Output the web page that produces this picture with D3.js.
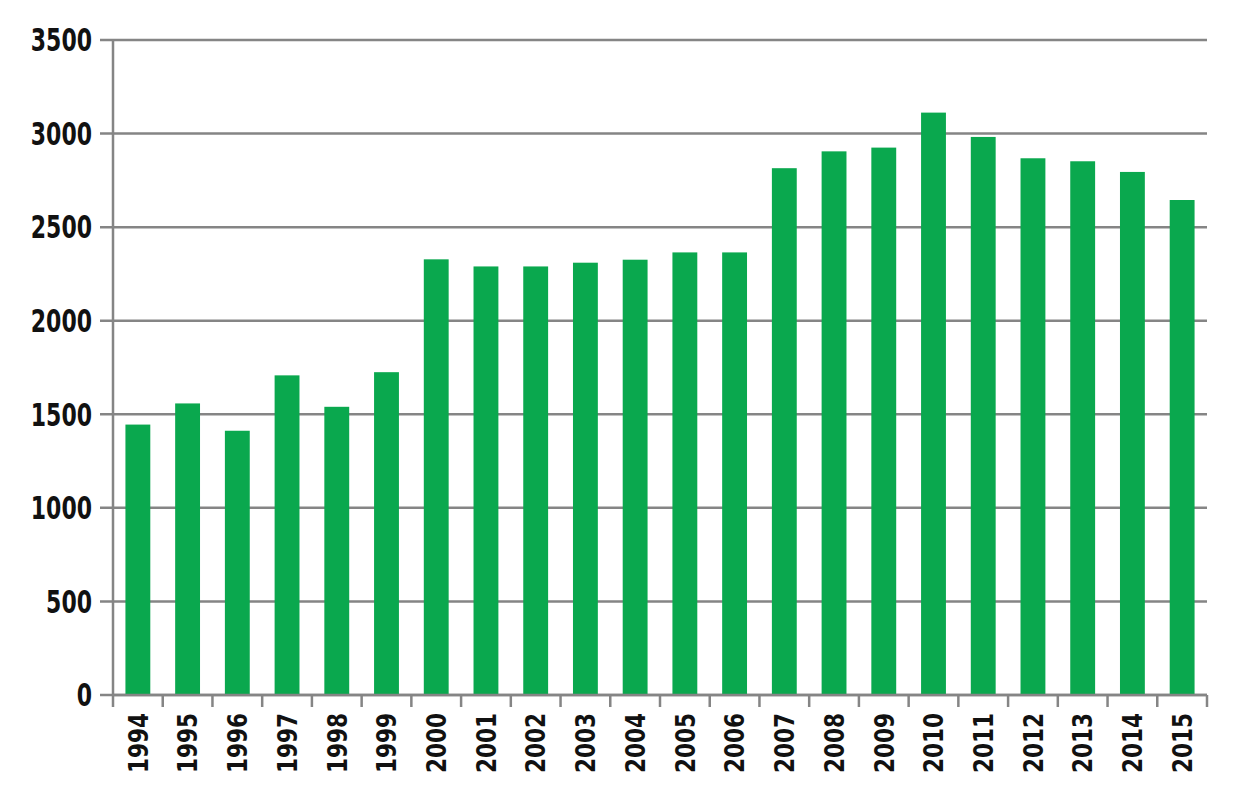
<!DOCTYPE html>
<html>
<head>
<meta charset="utf-8">
<script src="https://cdn.jsdelivr.net/npm/d3@7"></script>
<style>
  body { margin: 0; background: #fff; }
  .lbl { font-family: "DejaVu Sans", sans-serif; font-weight: bold; fill: #111; }
</style>
</head>
<body>
<svg width="1246" height="800"></svg>
<script>
const years = [1994, 1995, 1996, 1997, 1998, 1999, 2000, 2001, 2002, 2003, 2004,
               2005, 2006, 2007, 2008, 2009, 2010, 2011, 2012, 2013, 2014, 2015];
const values = [1445, 1558, 1412, 1708, 1540, 1725, 2328, 2290, 2290, 2310, 2326,
                2365, 2365, 2815, 2905, 2925, 3112, 2982, 2868, 2852, 2795, 2645];
const yTicks = [0, 500, 1000, 1500, 2000, 2500, 3000, 3500];

const svg = d3.select("svg");
const pLeft = 113, pRight = 1207, pTop = 40, pBottom = 695;

const x = d3.scaleBand().domain(years).range([pLeft, pRight]).padding(0);
const y = d3.scaleLinear().domain([0, 3500]).range([pBottom, pTop]);

// gridlines + y ticks
svg.append("g").selectAll("line")
  .data(yTicks)
  .join("line")
  .attr("x1", pLeft - 13).attr("x2", pRight)
  .attr("y1", d => y(d)).attr("y2", d => y(d))
  .attr("stroke", "#858585").attr("stroke-width", 2.5);

// bars
svg.append("g").selectAll("rect")
  .data(years)
  .join("rect")
  .attr("x", (d) => x(d) + x.bandwidth() * 0.25)
  .attr("width", x.bandwidth() * 0.5)
  .attr("y", (d, i) => y(values[i]))
  .attr("height", (d, i) => pBottom - y(values[i]))
  .attr("fill", "#0aa84e");

// y axis line
svg.append("line")
  .attr("x1", pLeft).attr("x2", pLeft)
  .attr("y1", pTop).attr("y2", pBottom + 12)
  .attr("stroke", "#858585").attr("stroke-width", 2.5);

// x axis line (over the bars)
svg.append("line")
  .attr("x1", pLeft).attr("x2", pRight)
  .attr("y1", pBottom).attr("y2", pBottom)
  .attr("stroke", "#858585").attr("stroke-width", 2.5);

// x ticks at band boundaries
svg.append("g").selectAll("line")
  .data(years)
  .join("line")
  .attr("x1", d => x(d) + x.bandwidth()).attr("x2", d => x(d) + x.bandwidth())
  .attr("y1", pBottom).attr("y2", pBottom + 12)
  .attr("stroke", "#858585").attr("stroke-width", 2.5);

// y labels
svg.append("g").selectAll("text")
  .data(yTicks)
  .join("text")
  .attr("class", "lbl")
  .attr("font-size", 22)
  .attr("text-anchor", "end")
  .attr("dy", "0.36em")
  .attr("transform", d => `translate(92,${y(d)}) scale(1,1.42)`)
  .text(d => d);

// x labels, rotated
svg.append("g").selectAll("text")
  .data(years)
  .join("text")
  .attr("class", "lbl")
  .attr("font-size", 27)
  .attr("text-anchor", "end")
  .attr("dy", "0.36em")
  .attr("transform", d => `translate(${x(d) + x.bandwidth() / 2},713) rotate(-90) scale(0.8,1)`)
  .text(d => d);
</script>
</body>
</html>
